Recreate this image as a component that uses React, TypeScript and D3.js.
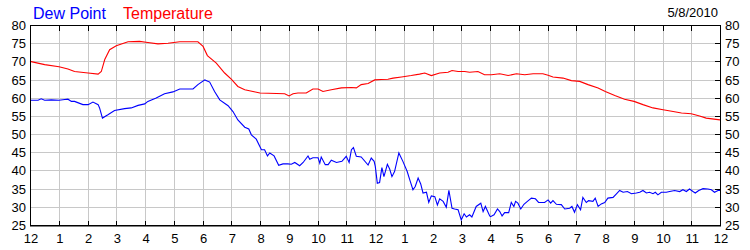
import React from "react";
import * as d3 from "d3";

// ---- Data (hours since midnight 5/8/2010) ----
const tempHours = [0, 0.51, 1.01, 1.32, 1.55, 2.02, 2.37, 2.48, 2.6, 2.77, 3.0, 3.41, 3.81, 4.1, 4.45, 4.8, 5.21, 5.84, 6.02, 6.17, 6.48, 6.77, 7.0, 7.23, 7.47, 8.0, 8.86, 9.01, 9.15, 9.32, 9.61, 9.84, 10.02, 10.19, 10.48, 10.83, 11.18, 11.35, 11.52, 11.76, 11.99, 12.22, 12.45, 12.63, 12.92, 13.26, 13.55, 13.73, 13.96, 14.25, 14.54, 14.68, 14.89, 15.12, 15.29, 15.58, 15.81, 16.05, 16.34, 16.63, 16.92, 17.21, 17.5, 17.84, 18.02, 18.19, 18.54, 18.83, 19.12, 19.41, 19.76, 20.01, 20.34, 20.68, 21.01, 21.32, 21.67, 22.02, 22.37, 22.66, 23.0, 23.29, 23.52, 24.0];
const tempValues = [70.0, 69.1, 68.5, 67.9, 67.2, 66.8, 66.5, 67.2, 70.5, 73.2, 74.3, 75.4, 75.5, 75.2, 74.8, 75.0, 75.4, 75.4, 74.1, 71.6, 69.5, 66.8, 65.1, 63.1, 62.2, 61.3, 61.1, 60.5, 61.1, 61.3, 61.3, 62.4, 62.4, 61.7, 62.2, 62.7, 62.8, 62.7, 63.6, 63.9, 64.9, 65.0, 65.1, 65.4, 65.7, 66.1, 66.5, 66.8, 66.1, 66.8, 67.0, 67.5, 67.2, 67.2, 67.0, 67.2, 66.3, 66.3, 66.6, 66.1, 66.6, 66.3, 66.6, 66.6, 66.2, 65.7, 65.4, 64.7, 64.5, 63.6, 62.7, 61.7, 60.6, 59.6, 59.0, 58.1, 57.2, 56.7, 56.2, 55.8, 55.6, 55.0, 54.4, 53.9];

const dewHours = [0, 0.28, 0.39, 0.51, 0.74, 1.01, 1.21, 1.32, 1.44, 1.55, 1.84, 2.02, 2.19, 2.37, 2.42, 2.52, 2.71, 2.94, 3.29, 3.52, 3.76, 3.99, 4.1, 4.39, 4.68, 4.97, 5.21, 5.67, 5.84, 6.08, 6.25, 6.42, 6.6, 6.89, 7.06, 7.23, 7.47, 7.61, 7.7, 7.87, 8.05, 8.16, 8.26, 8.34, 8.49, 8.65, 8.8, 8.97, 9.09, 9.21, 9.38, 9.5, 9.67, 9.73, 9.84, 10.02, 10.08, 10.13, 10.27, 10.37, 10.48, 10.66, 10.85, 11.0, 11.1, 11.18, 11.25, 11.35, 11.52, 11.76, 11.87, 11.97, 12.01, 12.08, 12.16, 12.24, 12.31, 12.36, 12.43, 12.51, 12.59, 12.68, 12.83, 12.97, 13.12, 13.21, 13.32, 13.4, 13.5, 13.59, 13.67, 13.79, 13.87, 13.96, 14.08, 14.17, 14.25, 14.37, 14.48, 14.57, 14.68, 14.77, 14.89, 15.0, 15.1, 15.18, 15.29, 15.37, 15.52, 15.68, 15.76, 15.84, 15.99, 16.02, 16.14, 16.26, 16.34, 16.42, 16.51, 16.65, 16.74, 16.83, 16.89, 16.97, 17.07, 17.18, 17.3, 17.44, 17.58, 17.69, 17.9, 18.02, 18.11, 18.19, 18.31, 18.48, 18.6, 18.77, 18.85, 18.94, 19.04, 19.15, 19.23, 19.35, 19.43, 19.58, 19.66, 19.76, 19.87, 19.99, 20.1, 20.28, 20.39, 20.51, 20.63, 20.78, 20.92, 21.09, 21.21, 21.32, 21.44, 21.55, 21.67, 21.75, 21.84, 21.96, 22.13, 22.25, 22.42, 22.6, 22.71, 22.83, 22.94, 23.06, 23.14, 23.26, 23.41, 23.58, 23.7, 23.81, 23.93, 24.0];
const dewValues = [59.3, 59.3, 59.7, 59.3, 59.4, 59.3, 59.5, 59.6, 59.0, 59.0, 58.1, 58.1, 58.8, 58.1, 57.2, 54.4, 55.3, 56.5, 57.0, 57.2, 57.9, 58.3, 59.0, 59.9, 61.1, 61.6, 62.4, 62.4, 63.6, 64.9, 64.3, 61.7, 59.4, 57.8, 56.2, 53.9, 51.9, 51.4, 49.8, 48.6, 45.7, 45.7, 44.0, 44.8, 44.0, 41.4, 41.8, 41.8, 41.7, 42.2, 41.3, 42.2, 44.0, 43.1, 43.5, 43.5, 42.0, 43.7, 41.6, 41.6, 42.8, 42.2, 42.5, 43.9, 42.2, 45.7, 46.3, 43.9, 43.7, 41.5, 43.4, 42.5, 41.1, 36.5, 36.7, 40.8, 38.3, 39.7, 41.7, 40.4, 38.3, 39.7, 44.8, 42.5, 39.7, 37.4, 34.7, 35.6, 37.9, 36.3, 33.8, 34.0, 31.2, 33.0, 32.8, 30.5, 32.2, 31.5, 29.9, 34.5, 29.6, 29.4, 29.2, 26.4, 28.1, 27.2, 27.8, 27.2, 30.1, 31.0, 28.7, 30.1, 27.5, 27.3, 27.8, 29.4, 28.7, 27.5, 28.4, 28.4, 31.2, 30.1, 31.5, 31.0, 29.4, 30.7, 31.5, 32.4, 32.2, 31.2, 31.2, 31.9, 31.0, 31.7, 30.7, 30.6, 29.4, 29.6, 30.1, 28.5, 30.6, 29.2, 32.6, 31.2, 31.7, 31.5, 32.4, 30.1, 30.8, 31.2, 32.4, 32.6, 33.5, 34.5, 34.0, 34.2, 33.6, 33.8, 34.0, 34.5, 33.8, 34.0, 33.6, 34.0, 33.3, 34.0, 34.0, 34.2, 34.5, 34.2, 34.7, 34.2, 34.9, 34.2, 33.8, 34.5, 35.0, 34.9, 34.7, 34.0, 34.5, 34.5];

const hourTicks = d3.range(0, 25);
const hourLabels = ["12", "1", "2", "3", "4", "5", "6", "7", "8", "9", "10", "11", "12", "1", "2", "3", "4", "5", "6", "7", "8", "9", "10", "11", "12"];
const yTicks = [25, 30, 35, 40, 45, 50, 55, 60, 65, 70, 75, 80];
const seriesNames = ["Dew Point", "Temperature"];
const dateLabel = "5/8/2010";

const W = 750;
const H = 250;
const L = 30, R = 720, T = 25, B = 225;
const FONT = "Arial, 'Liberation Sans', sans-serif";

export default function App() {
  const x = d3.scaleLinear().domain([0, 24]).range([L, R]);
  const y = d3.scaleLinear().domain([25, 80]).range([B, T]);
  const px = (v: number) => Math.round(v) + 0.5;

  const line = d3
    .line<[number, number]>()
    .x((d) => x(d[0]))
    .y((d) => y(d[1]));

  const tempPts = tempHours.map((h, i) => [h, tempValues[i]] as [number, number]);
  const dewPts = dewHours.map((h, i) => [h, dewValues[i]] as [number, number]);

  return (
    <svg
      width={W}
      height={H}
      style={{ position: "absolute", left: 0, top: 0, background: "#fff" }}
      fontFamily={FONT}
    >
      <rect x={0} y={0} width={W} height={H} fill="#fff" />
      {/* grid */}
      {hourTicks.slice(1, -1).map((h) => (
        <line key={"gx" + h} x1={px(x(h))} x2={px(x(h))} y1={T} y2={B} stroke="#c8c8c8" strokeWidth={1} />
      ))}
      {yTicks.slice(1, -1).map((v) => (
        <line key={"gy" + v} x1={L} x2={R} y1={px(y(v))} y2={px(y(v))} stroke="#c8c8c8" strokeWidth={1} />
      ))}
      {/* series */}
      <path d={line(tempPts) || ""} fill="none" stroke="#ff0000" strokeWidth={1.1} />
      <path d={line(dewPts) || ""} fill="none" stroke="#0000ff" strokeWidth={1.1} />
      {/* frame */}
      <rect x={L + 0.5} y={T + 0.5} width={R - L} height={B - T} fill="none" stroke="#000" strokeWidth={1} />
      <line x1={L} x2={R + 1} y1={B + 1} y2={B + 1} stroke="#000" strokeWidth={1} />
      {/* tick marks */}
      {hourTicks.slice(1, -1).map((h) => (
        <g key={"tk" + h}>
          <line x1={px(x(h))} x2={px(x(h))} y1={T} y2={T + 6} stroke="#000" />
          <line x1={px(x(h))} x2={px(x(h))} y1={B} y2={B - 4} stroke="#000" />
        </g>
      ))}
      {yTicks.slice(1, -1).map((v) => (
        <line key={"rt" + v} x1={R - 5} x2={R} y1={px(y(v))} y2={px(y(v))} stroke="#000" />
      ))}
      {/* axis labels */}
      {hourTicks.map((h, i) => (
        <text key={"xl" + h} x={x(h) + 1} y={243} fontSize={13} textAnchor="middle" fill="#000">
          {hourLabels[i]}
        </text>
      ))}
      {yTicks.map((v) => (
        <text key={"yl" + v} x={26} y={y(v) + 5} fontSize={13} textAnchor="end" fill="#000">
          {v}
        </text>
      ))}
      {yTicks.map((v) => (
        <text key={"yr" + v} x={725} y={y(v) + 5} fontSize={13} textAnchor="start" fill="#000">
          {v}
        </text>
      ))}
      {/* legend */}
      <text x={33} y={19} fontSize={16} fill="#0000ff">{seriesNames[0]}</text>
      <text x={123} y={19} fontSize={16} fill="#ff0000">{seriesNames[1]}</text>
      <text x={718} y={17} fontSize={13} textAnchor="end" fill="#000">{dateLabel}</text>
    </svg>
  );
}
